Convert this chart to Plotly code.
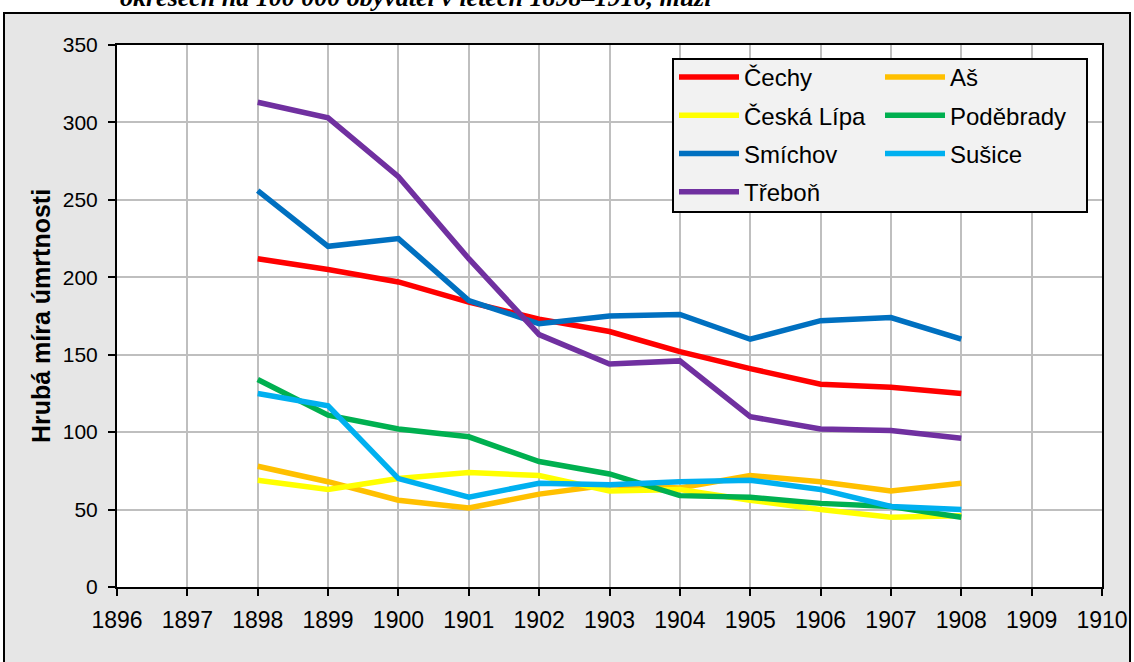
import plotly.graph_objects as go

years = [1898, 1899, 1900, 1901, 1902, 1903, 1904, 1905, 1906, 1907, 1908]

cechy = [212, 205, 197, 184, 173, 165, 152, 141, 131, 129, 125]
as_ = [78, 68, 56, 51, 60, 66, 64, 72, 68, 62, 67]
ceska_lipa = [69, 63, 70, 74, 72, 62, 63, 56, 50, 45, 46]
podebrady = [134, 111, 102, 97, 81, 73, 59, 58, 54, 52, 45]
smichov = [256, 220, 225, 185, 170, 175, 176, 160, 172, 174, 160]
susice = [125, 117, 70, 58, 67, 66, 68, 69, 63, 52, 50]
trebon = [313, 303, 265, 212, 163, 144, 146, 110, 102, 101, 96]

# (name, values, colour, legend column)
series = [
    ("Čechy", cechy, "#ff0000", "legend"),
    ("Aš", as_, "#ffc000", "legend2"),
    ("Česká Lípa", ceska_lipa, "#ffff00", "legend"),
    ("Poděbrady", podebrady, "#00b050", "legend2"),
    ("Smíchov", smichov, "#0070c0", "legend"),
    ("Sušice", susice, "#00b0f0", "legend2"),
    ("Třeboň", trebon, "#7030a0", "legend"),
]

x_ticks = list(range(1896, 1911))
y_ticks = list(range(0, 351, 50))

fig = go.Figure()
for name, vals, col, lg in series:
    fig.add_trace(go.Scatter(x=years, y=vals, name=name, mode="lines",
                             legend=lg, legendgroup=name,
                             line=dict(color=col, width=5.5)))

L, R, T, B = 117, 32, 45, 75
W, H = 1134, 662
pw, ph = W - L - R, H - T - B

def px(x):
    return (x - L) / pw

def py(y):
    return (H - B - y) / ph

legend_font = dict(size=24, family="Liberation Sans, Arial", color="black")
common_legend = dict(
    xanchor="left", yanchor="top", bgcolor="rgba(0,0,0,0)",
    borderwidth=0, font=legend_font, itemwidth=60, tracegroupgap=4,
    orientation="v",
)

fig.update_layout(
    width=W, height=H,
    margin=dict(l=L, r=R, t=T, b=B, autoexpand=False),
    paper_bgcolor="white",
    plot_bgcolor="rgba(0,0,0,0)",
    font=dict(family="Liberation Sans, Arial", color="black"),
    shapes=[
        dict(type="rect", xref="paper", yref="paper", layer="below",
             x0=px(4), x1=px(1130), y0=py(675), y1=py(13),
             fillcolor="#e6e6e6", line=dict(color="black", width=2)),
        dict(type="rect", xref="paper", yref="paper", layer="below",
             x0=0, x1=1, y0=0, y1=1, fillcolor="white", line=dict(width=0)),
        dict(type="rect", xref="paper", yref="paper", layer="above",
             x0=px(673), x1=px(1087), y0=py(212), y1=py(59),
             fillcolor="#f2f2f2", line=dict(color="black", width=2)),
    ],
    annotations=[
        dict(text="okresech na 100 000 obyvatel v letech 1898–1910, muži",
             xref="paper", yref="paper", x=px(118), y=py(-3), xanchor="left",
             yanchor="middle", showarrow=False,
             font=dict(family="Liberation Serif", size=26, style="italic",
                       weight="bold", color="black")),
    ],
    legend=dict(x=px(674), y=py(55), **common_legend),
    legend2=dict(x=px(880), y=py(55), **common_legend),
    xaxis=dict(
        range=[1896, 1910], tickvals=x_ticks, ticktext=[str(v) for v in x_ticks],
        showgrid=True, gridcolor="#bfbfbf", gridwidth=1.5,
        showline=True, linecolor="black", linewidth=2, mirror=True,
        ticks="outside", ticklen=7, tickwidth=2, tickcolor="black",
        tickfont=dict(family="Liberation Sans, Arial", size=23),
        ticklabelstandoff=4, automargin=False,
        zeroline=False,
    ),
    yaxis=dict(
        range=[0, 350], tickvals=y_ticks,
        showgrid=True, gridcolor="#bfbfbf", gridwidth=1.5,
        showline=True, linecolor="black", linewidth=2, mirror=True,
        ticks="outside", ticklen=7, tickwidth=2, tickcolor="black",
        tickfont=dict(size=21),
        ticklabelstandoff=6, automargin=False,
        title=dict(text="Hrubá míra úmrtnosti", font=dict(size=25, weight="bold"),
                   standoff=5),
        zeroline=False,
    ),
)

fig.write_html("out.html", config={"displayModeBar": False},
               post_script="document.body.style.margin='0';")
